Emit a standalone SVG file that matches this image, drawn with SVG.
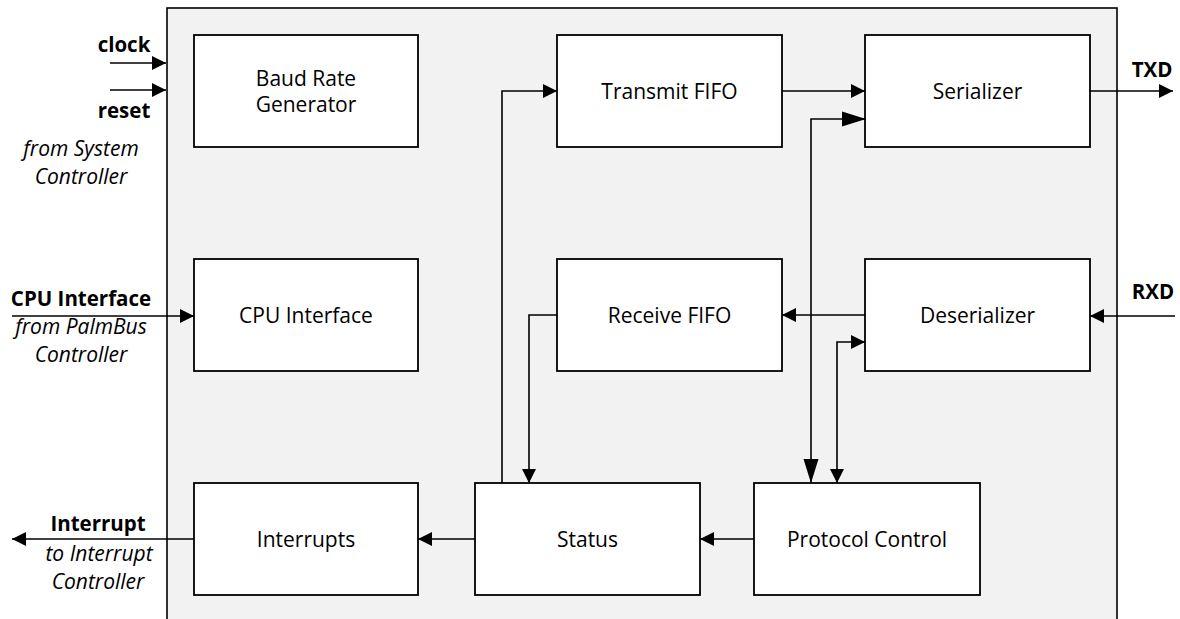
<svg xmlns="http://www.w3.org/2000/svg" width="1180" height="619" viewBox="0 0 1180 619">
<defs>
<marker id="ah" markerUnits="userSpaceOnUse" markerWidth="14" markerHeight="14" refX="14" refY="7" orient="auto-start-reverse" viewBox="0 0 14 14">
<path d="M0,0 L14,7 L0,14 z" fill="#000"/>
</marker>
<marker id="ahb" markerUnits="userSpaceOnUse" markerWidth="24" markerHeight="16" refX="24" refY="8" orient="auto-start-reverse" viewBox="0 0 24 16">
<path d="M0,0.5 L24,8 L0,15.5 z" fill="#000"/>
</marker>
<style>
.box{fill:#fff;stroke:#000;stroke-width:1.8}
.t{font-family:"Open Sans","Liberation Sans",sans-serif;font-size:21px;fill:#000;text-anchor:middle}
.b{font-family:"Open Sans","Liberation Sans",sans-serif;font-size:20.5px;font-weight:bold;fill:#000;text-anchor:middle}
.i{font-family:"Open Sans","Liberation Sans",sans-serif;font-size:21px;font-style:italic;fill:#000;text-anchor:middle}
.c{fill:none;stroke:#000;stroke-width:1.6;marker-end:url(#ah)}
</style>
</defs>
<rect width="1180" height="619" fill="#fff"/>
<g id="container">
<rect x="167" y="8" width="950" height="640" fill="#f2f2f2" stroke="#000" stroke-width="1.6"/>
</g>
<g id="baud"><rect class="box" x="194" y="35" width="224" height="112"/><text class="t" x="306" y="86">Baud Rate</text><text class="t" x="306" y="112">Generator</text></g>
<g id="txfifo"><rect class="box" x="557" y="35" width="225" height="112"/><text class="t" x="669.5" y="98.5">Transmit FIFO</text></g>
<g id="serializer"><rect class="box" x="865" y="35" width="225" height="112"/><text class="t" x="977.5" y="98.5">Serializer</text></g>
<g id="cpu"><rect class="box" x="194" y="259" width="224" height="112"/><text class="t" x="306" y="322.5">CPU Interface</text></g>
<g id="rxfifo"><rect class="box" x="557" y="259" width="225" height="112"/><text class="t" x="669.5" y="322.5">Receive FIFO</text></g>
<g id="deserializer"><rect class="box" x="865" y="259" width="225" height="112"/><text class="t" x="977.5" y="322.5">Deserializer</text></g>
<g id="interrupts"><rect class="box" x="194" y="483" width="224" height="112"/><text class="t" x="306" y="546.5">Interrupts</text></g>
<g id="status"><rect class="box" x="475" y="483" width="225" height="112"/><text class="t" x="587.5" y="546.5">Status</text></g>
<g id="protocol"><rect class="box" x="754" y="483" width="226" height="112"/><text class="t" x="867" y="546.5">Protocol Control</text></g>
<g id="labels">
<text class="b" x="124" y="52">clock</text>
<text class="b" x="124" y="118">reset</text>
<text class="i" x="81" y="156">from System</text>
<text class="i" x="81" y="184">Controller</text>
<text class="b" x="81" y="306">CPU Interface</text>
<text class="i" x="81" y="334">from PalmBus</text>
<text class="i" x="81" y="362">Controller</text>
<text class="b" x="98" y="531">Interrupt</text>
<text class="i" x="99" y="561">to Interrupt</text>
<text class="i" x="98" y="589">Controller</text>
<text class="b" x="1152" y="77">TXD</text>
<text class="b" x="1153" y="299">RXD</text>
</g>
<g id="connectors">
<path class="c" d="M110,63 H166"/>
<path class="c" d="M110,90 H166"/>
<path class="c" d="M12,316 H194"/>
<path class="c" d="M194,539 H12"/>
<path class="c" d="M475,539 H418"/>
<path class="c" d="M754,539 H700"/>
<path class="c" d="M502,483 V91 H557"/>
<path class="c" d="M557,315 H529 V483"/>
<path class="c" d="M782,91 H865"/>
<path class="c" d="M1090,91 H1173"/>
<path class="c" d="M1175,316 H1090"/>
<path class="c" d="M865,315 H782"/>
<path d="M866,119 H811 V483" fill="none" stroke="#000" stroke-width="1.6" marker-start="url(#ahb)" marker-end="url(#ahb)"/>
<path d="M865,342 H837 V483" fill="none" stroke="#000" stroke-width="1.6" marker-start="url(#ah)" marker-end="url(#ah)"/>
</g>
</svg>
